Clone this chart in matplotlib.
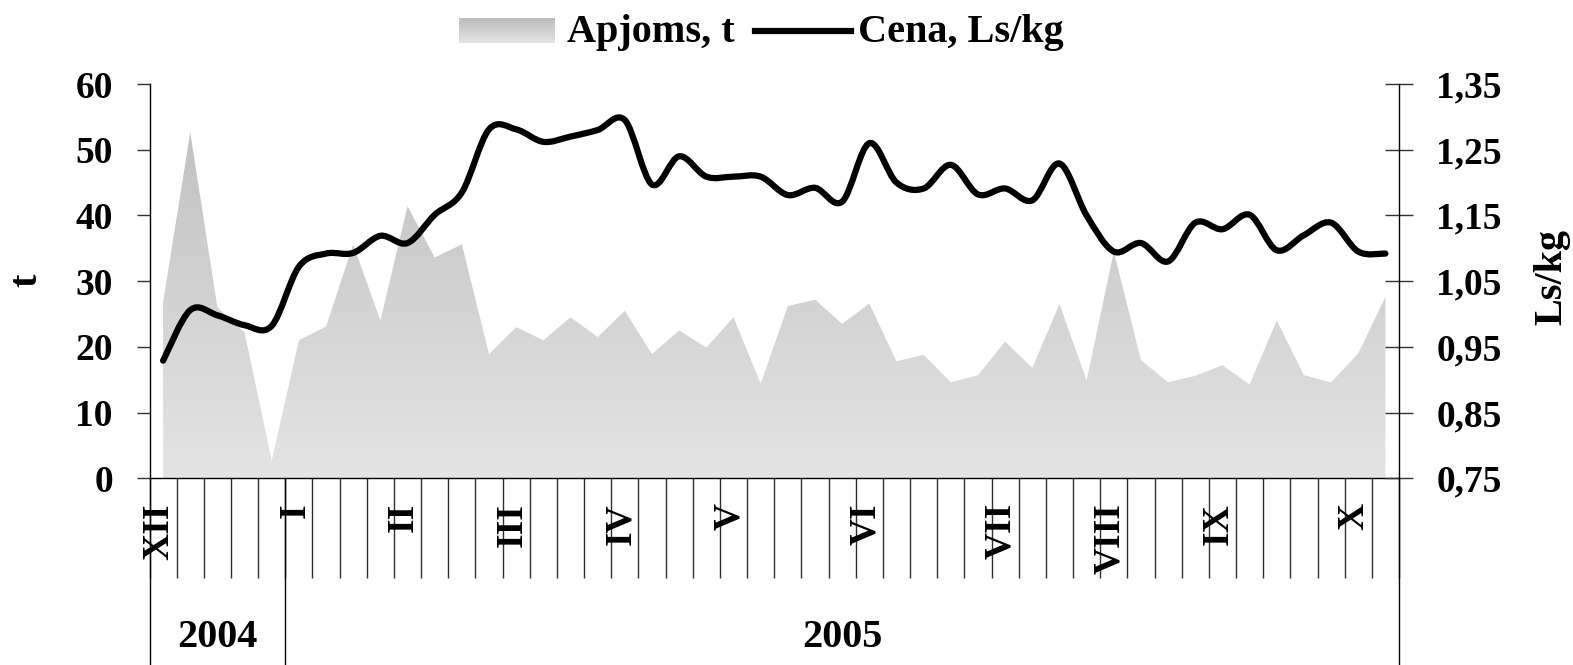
import numpy as np
import matplotlib
matplotlib.use('Agg')
import matplotlib.pyplot as plt
from matplotlib.path import Path
from matplotlib.patches import PathPatch
from matplotlib.lines import Line2D
from matplotlib.colors import LinearSegmentedColormap

# ---- data ----
volume = [26.8, 52.6, 26.0, 22.2, 2.7, 21.0, 23.1, 35.6, 24.0, 41.4,
          33.6, 35.6, 18.9, 23.0, 21.0, 24.5, 21.5, 25.5, 18.9, 22.5,
          19.9, 24.5, 14.4, 26.2, 27.2, 23.5, 26.6, 17.8, 18.8, 14.6,
          15.7, 20.8, 16.8, 26.5, 14.9, 34.5, 18.0, 14.6, 15.6, 17.2,
          14.3, 24.0, 15.7, 14.6, 19.0, 27.6]
price = [0.929, 1.006, 0.998, 0.983, 0.982, 1.072, 1.092, 1.093, 1.119, 1.108,
         1.151, 1.185, 1.281, 1.281, 1.262, 1.270, 1.280, 1.295, 1.197, 1.240,
         1.209, 1.209, 1.209, 1.181, 1.192, 1.171, 1.260, 1.200, 1.191, 1.227,
         1.182, 1.191, 1.173, 1.229, 1.150, 1.095, 1.108, 1.080, 1.139, 1.129,
         1.151, 1.097, 1.120, 1.139, 1.095, 1.092]
month_labels = ['XII', 'I', 'II', 'III', 'IV', 'V', 'VI', 'VII', 'VIII', 'IX', 'X']
month_pos = [0, 5, 9, 13, 17, 21, 26, 31, 35, 39, 44]
year_labels = ['2004', '2005']
year_bounds = [0, 5, 46]
left_ticks = [0, 10, 20, 30, 40, 50, 60]
right_ticks = [0.75, 0.85, 0.95, 1.05, 1.15, 1.25, 1.35]
legend_labels = ['Apjoms, t', 'Cena, Ls/kg']

plt.rcParams['font.family'] = ['Liberation Serif', 'DejaVu Serif']
plt.rcParams['font.weight'] = 'bold'
FS_TICK = 27
FS_TXT = 29

W, H = 1573, 665
fig = plt.figure(figsize=(W / 100, H / 100), dpi=100)
L, R, T, B = 149.5, 1399, 84, 478.3
ax = fig.add_axes([L / W, 1 - B / H, (R - L) / W, (B - T) / H])
n = len(volume)
x = np.arange(n) + 0.5

# gradient-filled area
poly = ax.fill_between(x, 0, volume, facecolor='none', edgecolor='none')
clip = PathPatch(poly.get_paths()[0], transform=ax.transData,
                 facecolor='none', edgecolor='none')
ax.add_patch(clip)
grad = np.linspace(0, 1, 256).reshape(-1, 1)
cmap = LinearSegmentedColormap.from_list('g', ['#e4e4e4', '#bdbdbd'])
im = ax.imshow(grad, extent=[0, n, 0, 60], origin='lower', aspect='auto',
               cmap=cmap, zorder=1, interpolation='bilinear')
im.set_clip_path(clip)
ax.set_xlim(0, n)
ax.set_ylim(0, 60)

for s in ['top', 'right']:
    ax.spines[s].set_visible(False)
for s in ['left', 'bottom']:
    ax.spines[s].set_linewidth(1.0)
    ax.spines[s].set_color('black')

ax.set_xticks(range(0, n + 1))
ax.set_xticklabels([])
ax.tick_params(axis='x', direction='out', length=72, width=1, color='#303030')
ax.set_yticks(left_ticks)
ax.set_yticklabels([str(v) for v in left_ticks])
ax.tick_params(axis='y', direction='out', length=9.4, width=1, pad=17,
               labelsize=FS_TICK, color='#303030')

xt = ax.get_xaxis_transform()
for lab, p in zip(month_labels, month_pos):
    ax.text(p + 0.35, -0.063, lab, transform=xt, rotation=90, ha='center',
            va='top', fontsize=FS_TICK, fontweight='bold')
for b in year_bounds:
    ax.plot([b, b], [0, -0.48], transform=xt, color='black', lw=1, clip_on=False)
for lab, a, b in zip(year_labels, year_bounds[:-1], year_bounds[1:]):
    ax.text((a + b) / 2, -0.4025, lab, transform=xt, ha='center', va='center',
            fontsize=FS_TXT, fontweight='bold')

# price line on secondary axis
ax2 = ax.twinx()
ax2.set_xlim(0, n)
ax2.set_ylim(0.75, 1.35)
for s in ['top', 'left', 'bottom']:
    ax2.spines[s].set_visible(False)
ax2.spines['right'].set_linewidth(1.0)
ax2.set_yticks(right_ticks)
ax2.set_yticklabels([f'{v:.2f}'.replace('.', ',') for v in right_ticks])
ax2.tick_params(axis='y', direction='inout', length=19.5, width=1, pad=17,
                labelsize=FS_TICK, color='#303030')


def smooth_path(xs, ys):
    verts = [(xs[0], ys[0])]
    codes = [Path.MOVETO]
    m = len(xs)
    for i in range(m - 1):
        p0 = i - 1 if i > 0 else i
        p3 = i + 2 if i + 2 < m else i + 1
        c1 = (xs[i] + (xs[i + 1] - xs[p0]) / 6, ys[i] + (ys[i + 1] - ys[p0]) / 6)
        c2 = (xs[i + 1] - (xs[p3] - xs[i]) / 6, ys[i + 1] - (ys[p3] - ys[i]) / 6)
        verts += [c1, c2, (xs[i + 1], ys[i + 1])]
        codes += [Path.CURVE4] * 3
    return Path(verts, codes)


ax2.add_patch(PathPatch(smooth_path(list(x), price), facecolor='none',
                        edgecolor='black', lw=4.5, capstyle='round',
                        joinstyle='round', zorder=3))

# axis titles
fig.text(27 / W, 1 - 280 / H, 't', rotation=90, ha='center', va='center',
         fontsize=FS_TXT, fontweight='bold')
fig.text(1552 / W, 1 - 277 / H, 'Ls/kg', rotation=90, ha='center', va='center',
         fontsize=FS_TXT, fontweight='bold')

# legend (manual)
lax = fig.add_axes([459 / W, 1 - 43 / H, 96 / W, 25 / H])
lax.imshow(grad, origin='lower', aspect='auto', cmap=cmap, interpolation='bilinear')
lax.axis('off')
fig.text(567 / W, 1 - 42 / H, legend_labels[0], va='baseline', ha='left',
         fontsize=FS_TXT, fontweight='bold')
fig.add_artist(Line2D([755 / W, 851 / W], [1 - 31 / H] * 2, transform=fig.transFigure,
                      lw=4.5, color='black'))
fig.text(858 / W, 1 - 42 / H, legend_labels[1], va='baseline', ha='left',
         fontsize=FS_TXT, fontweight='bold')

fig.savefig('out.png', dpi=100)
